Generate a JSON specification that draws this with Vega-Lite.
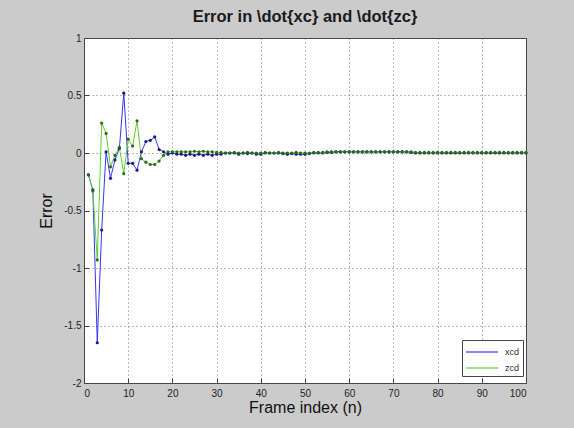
{
  "$schema": "https://vega.github.io/schema/vega-lite/v6.json",
  "autosize": "none",
  "width": 442,
  "height": 345,
  "padding": {"left": 84, "top": 38, "right": 48, "bottom": 45},
  "background": "#cbcbcb",
  "title": {"text": "Error in \\dot{xc} and \\dot{zc}", "font": "Liberation Sans", "fontSize": 16.5, "fontWeight": "bold", "color": "#1a1a1a", "offset": 8},
  "config": {
    "view": {"fill": "white", "stroke": "#444", "strokeWidth": 1},
    "axis": {"labelFont": "Liberation Sans", "labelFontSize": 10, "labelColor": "#222", "titleFont": "Liberation Sans", "titleFontSize": 16, "titleFontWeight": "normal", "titleColor": "#111", "grid": true, "gridColor": "#555", "gridDash": [1, 3], "gridOpacity": 0.8, "domain": false, "tickSize": -5, "tickColor": "#444", "labelPadding": 8}
  },
  "datasets": {
    "d": [
      {"n": 1, "s": "xcd", "v": -0.19}, {"n": 2, "s": "xcd", "v": -0.32}, {"n": 3, "s": "xcd", "v": -1.65}, {"n": 4, "s": "xcd", "v": -0.67}, {"n": 5, "s": "xcd", "v": 0.01},
      {"n": 6, "s": "xcd", "v": -0.22}, {"n": 7, "s": "xcd", "v": -0.06}, {"n": 8, "s": "xcd", "v": 0.04}, {"n": 9, "s": "xcd", "v": 0.52}, {"n": 10, "s": "xcd", "v": -0.09},
      {"n": 11, "s": "xcd", "v": -0.09}, {"n": 12, "s": "xcd", "v": -0.15}, {"n": 13, "s": "xcd", "v": 0.01}, {"n": 14, "s": "xcd", "v": 0.1}, {"n": 15, "s": "xcd", "v": 0.11},
      {"n": 16, "s": "xcd", "v": 0.14}, {"n": 17, "s": "xcd", "v": 0.03}, {"n": 18, "s": "xcd", "v": 0.01}, {"n": 19, "s": "xcd", "v": -0.01}, {"n": 20, "s": "xcd", "v": 0.0},
      {"n": 21, "s": "xcd", "v": -0.01}, {"n": 22, "s": "xcd", "v": -0.01}, {"n": 23, "s": "xcd", "v": -0.02}, {"n": 24, "s": "xcd", "v": -0.01}, {"n": 25, "s": "xcd", "v": -0.02},
      {"n": 26, "s": "xcd", "v": -0.01}, {"n": 27, "s": "xcd", "v": -0.02}, {"n": 28, "s": "xcd", "v": -0.01}, {"n": 29, "s": "xcd", "v": -0.02}, {"n": 30, "s": "xcd", "v": -0.01},
      {"n": 31, "s": "xcd", "v": -0.01}, {"n": 32, "s": "xcd", "v": 0.0}, {"n": 33, "s": "xcd", "v": 0.0}, {"n": 34, "s": "xcd", "v": 0.0}, {"n": 35, "s": "xcd", "v": -0.01},
      {"n": 36, "s": "xcd", "v": 0.0}, {"n": 37, "s": "xcd", "v": -0.005}, {"n": 38, "s": "xcd", "v": 0.0}, {"n": 39, "s": "xcd", "v": -0.01}, {"n": 40, "s": "xcd", "v": -0.01},
      {"n": 41, "s": "xcd", "v": 0.0}, {"n": 42, "s": "xcd", "v": 0.0}, {"n": 43, "s": "xcd", "v": 0.0}, {"n": 44, "s": "xcd", "v": 0.0}, {"n": 45, "s": "xcd", "v": -0.005},
      {"n": 46, "s": "xcd", "v": -0.01}, {"n": 47, "s": "xcd", "v": -0.005}, {"n": 48, "s": "xcd", "v": -0.01}, {"n": 49, "s": "xcd", "v": -0.01}, {"n": 50, "s": "xcd", "v": -0.01},
      {"n": 51, "s": "xcd", "v": -0.005}, {"n": 52, "s": "xcd", "v": 0.0}, {"n": 53, "s": "xcd", "v": 0.0}, {"n": 54, "s": "xcd", "v": 0.0}, {"n": 55, "s": "xcd", "v": 0.005},
      {"n": 56, "s": "xcd", "v": 0.005}, {"n": 57, "s": "xcd", "v": 0.01}, {"n": 58, "s": "xcd", "v": 0.01}, {"n": 59, "s": "xcd", "v": 0.01}, {"n": 60, "s": "xcd", "v": 0.01},
      {"n": 61, "s": "xcd", "v": 0.01}, {"n": 62, "s": "xcd", "v": 0.01}, {"n": 63, "s": "xcd", "v": 0.01}, {"n": 64, "s": "xcd", "v": 0.01}, {"n": 65, "s": "xcd", "v": 0.01},
      {"n": 66, "s": "xcd", "v": 0.01}, {"n": 67, "s": "xcd", "v": 0.01}, {"n": 68, "s": "xcd", "v": 0.01}, {"n": 69, "s": "xcd", "v": 0.01}, {"n": 70, "s": "xcd", "v": 0.01},
      {"n": 71, "s": "xcd", "v": 0.01}, {"n": 72, "s": "xcd", "v": 0.01}, {"n": 73, "s": "xcd", "v": 0.01}, {"n": 74, "s": "xcd", "v": 0.005}, {"n": 75, "s": "xcd", "v": 0.0},
      {"n": 76, "s": "xcd", "v": 0.0}, {"n": 77, "s": "xcd", "v": 0.0}, {"n": 78, "s": "xcd", "v": 0.0}, {"n": 79, "s": "xcd", "v": 0.0}, {"n": 80, "s": "xcd", "v": 0.0},
      {"n": 81, "s": "xcd", "v": 0.0}, {"n": 82, "s": "xcd", "v": 0.0}, {"n": 83, "s": "xcd", "v": 0.0}, {"n": 84, "s": "xcd", "v": 0.0}, {"n": 85, "s": "xcd", "v": 0.0},
      {"n": 86, "s": "xcd", "v": 0.0}, {"n": 87, "s": "xcd", "v": 0.0}, {"n": 88, "s": "xcd", "v": 0.0}, {"n": 89, "s": "xcd", "v": 0.0}, {"n": 90, "s": "xcd", "v": 0.0},
      {"n": 91, "s": "xcd", "v": 0.0}, {"n": 92, "s": "xcd", "v": 0.0}, {"n": 93, "s": "xcd", "v": 0.0}, {"n": 94, "s": "xcd", "v": 0.0}, {"n": 95, "s": "xcd", "v": 0.0},
      {"n": 96, "s": "xcd", "v": 0.0}, {"n": 97, "s": "xcd", "v": 0.0}, {"n": 98, "s": "xcd", "v": 0.0}, {"n": 99, "s": "xcd", "v": 0.0}, {"n": 100, "s": "xcd", "v": 0.0},
      {"n": 1, "s": "zcd", "v": -0.19}, {"n": 2, "s": "zcd", "v": -0.33}, {"n": 3, "s": "zcd", "v": -0.93}, {"n": 4, "s": "zcd", "v": 0.26}, {"n": 5, "s": "zcd", "v": 0.17},
      {"n": 6, "s": "zcd", "v": -0.12}, {"n": 7, "s": "zcd", "v": -0.02}, {"n": 8, "s": "zcd", "v": 0.05}, {"n": 9, "s": "zcd", "v": -0.18}, {"n": 10, "s": "zcd", "v": 0.12},
      {"n": 11, "s": "zcd", "v": 0.06}, {"n": 12, "s": "zcd", "v": 0.28}, {"n": 13, "s": "zcd", "v": -0.05}, {"n": 14, "s": "zcd", "v": -0.08}, {"n": 15, "s": "zcd", "v": -0.1},
      {"n": 16, "s": "zcd", "v": -0.1}, {"n": 17, "s": "zcd", "v": -0.07}, {"n": 18, "s": "zcd", "v": -0.02}, {"n": 19, "s": "zcd", "v": 0.01}, {"n": 20, "s": "zcd", "v": 0.01},
      {"n": 21, "s": "zcd", "v": 0.01}, {"n": 22, "s": "zcd", "v": 0.01}, {"n": 23, "s": "zcd", "v": 0.01}, {"n": 24, "s": "zcd", "v": 0.01}, {"n": 25, "s": "zcd", "v": 0.015},
      {"n": 26, "s": "zcd", "v": 0.01}, {"n": 27, "s": "zcd", "v": 0.015}, {"n": 28, "s": "zcd", "v": 0.01}, {"n": 29, "s": "zcd", "v": 0.01}, {"n": 30, "s": "zcd", "v": 0.005},
      {"n": 31, "s": "zcd", "v": 0.005}, {"n": 32, "s": "zcd", "v": 0.0}, {"n": 33, "s": "zcd", "v": 0.0}, {"n": 34, "s": "zcd", "v": 0.005}, {"n": 35, "s": "zcd", "v": 0.0},
      {"n": 36, "s": "zcd", "v": 0.0}, {"n": 37, "s": "zcd", "v": 0.005}, {"n": 38, "s": "zcd", "v": 0.0}, {"n": 39, "s": "zcd", "v": 0.0}, {"n": 40, "s": "zcd", "v": 0.0},
      {"n": 41, "s": "zcd", "v": 0.005}, {"n": 42, "s": "zcd", "v": 0.0}, {"n": 43, "s": "zcd", "v": 0.0}, {"n": 44, "s": "zcd", "v": 0.005}, {"n": 45, "s": "zcd", "v": 0.0},
      {"n": 46, "s": "zcd", "v": 0.0}, {"n": 47, "s": "zcd", "v": 0.0}, {"n": 48, "s": "zcd", "v": 0.005}, {"n": 49, "s": "zcd", "v": 0.0}, {"n": 50, "s": "zcd", "v": 0.0},
      {"n": 51, "s": "zcd", "v": 0.0}, {"n": 52, "s": "zcd", "v": 0.005}, {"n": 53, "s": "zcd", "v": 0.005}, {"n": 54, "s": "zcd", "v": 0.005}, {"n": 55, "s": "zcd", "v": 0.01},
      {"n": 56, "s": "zcd", "v": 0.01}, {"n": 57, "s": "zcd", "v": 0.01}, {"n": 58, "s": "zcd", "v": 0.01}, {"n": 59, "s": "zcd", "v": 0.01}, {"n": 60, "s": "zcd", "v": 0.01},
      {"n": 61, "s": "zcd", "v": 0.01}, {"n": 62, "s": "zcd", "v": 0.01}, {"n": 63, "s": "zcd", "v": 0.01}, {"n": 64, "s": "zcd", "v": 0.01}, {"n": 65, "s": "zcd", "v": 0.01},
      {"n": 66, "s": "zcd", "v": 0.01}, {"n": 67, "s": "zcd", "v": 0.01}, {"n": 68, "s": "zcd", "v": 0.01}, {"n": 69, "s": "zcd", "v": 0.01}, {"n": 70, "s": "zcd", "v": 0.01},
      {"n": 71, "s": "zcd", "v": 0.01}, {"n": 72, "s": "zcd", "v": 0.01}, {"n": 73, "s": "zcd", "v": 0.01}, {"n": 74, "s": "zcd", "v": 0.01}, {"n": 75, "s": "zcd", "v": 0.005},
      {"n": 76, "s": "zcd", "v": 0.005}, {"n": 77, "s": "zcd", "v": 0.005}, {"n": 78, "s": "zcd", "v": 0.005}, {"n": 79, "s": "zcd", "v": 0.005}, {"n": 80, "s": "zcd", "v": 0.005},
      {"n": 81, "s": "zcd", "v": 0.005}, {"n": 82, "s": "zcd", "v": 0.005}, {"n": 83, "s": "zcd", "v": 0.005}, {"n": 84, "s": "zcd", "v": 0.005}, {"n": 85, "s": "zcd", "v": 0.005},
      {"n": 86, "s": "zcd", "v": 0.005}, {"n": 87, "s": "zcd", "v": 0.005}, {"n": 88, "s": "zcd", "v": 0.005}, {"n": 89, "s": "zcd", "v": 0.005}, {"n": 90, "s": "zcd", "v": 0.005},
      {"n": 91, "s": "zcd", "v": 0.005}, {"n": 92, "s": "zcd", "v": 0.005}, {"n": 93, "s": "zcd", "v": 0.005}, {"n": 94, "s": "zcd", "v": 0.005}, {"n": 95, "s": "zcd", "v": 0.005},
      {"n": 96, "s": "zcd", "v": 0.005}, {"n": 97, "s": "zcd", "v": 0.005}, {"n": 98, "s": "zcd", "v": 0.005}, {"n": 99, "s": "zcd", "v": 0.005}, {"n": 100, "s": "zcd", "v": 0.005}
    ]
  },
  "data": {"name": "d"},
  "encoding": {
    "x": {"field": "n", "type": "quantitative", "scale": {"domain": [0, 100], "nice": false}, "axis": {"values": [0, 10, 20, 30, 40, 50, 60, 70, 80, 90, 100], "title": "Frame index (n)", "titlePadding": 1, "labelPadding": 10}},
    "y": {"field": "v", "type": "quantitative", "scale": {"domain": [-2, 1], "nice": false}, "axis": {"values": [-2, -1.5, -1, -0.5, 0, 0.5, 1], "labelExpr": "'' + datum.value", "title": "Error", "titlePadding": 9, "labelPadding": 8}}
  },
  "layer": [
    {
      "mark": {"type": "line", "strokeWidth": 1},
      "encoding": {
        "color": {"field": "s", "type": "nominal", "scale": {"domain": ["xcd", "zcd"], "range": ["#3535ff", "#5fcf2f"]},
          "legend": {"title": null, "orient": "none", "legendX": 378, "legendY": 302, "symbolType": "M-1,0H3", "symbolSize": 256, "symbolStrokeWidth": 1.2, "fillColor": "white", "strokeColor": "#444", "padding": 3, "labelOffset": 22, "labelFont": "Liberation Sans", "labelFontSize": 9, "labelColor": "#333", "rowPadding": 2}},
        "order": {"field": "n"}
      }
    },
    {
      "mark": {"type": "point", "filled": true, "size": 10, "opacity": 1},
      "encoding": {
        "fill": {"field": "s", "type": "nominal", "scale": {"domain": ["xcd", "zcd"], "range": ["#1a1a80", "#2a6a1a"]}, "legend": null}
      }
    }
  ]
}
